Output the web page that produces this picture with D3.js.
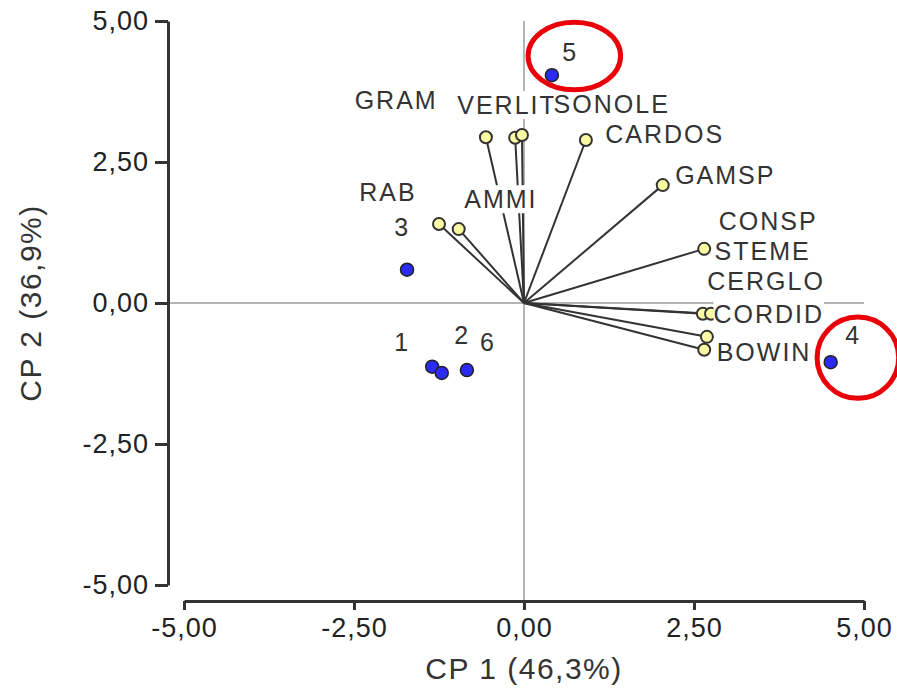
<!DOCTYPE html>
<html>
<head>
<meta charset="utf-8">
<script src="https://cdn.jsdelivr.net/npm/d3@7"></script>
<style>
  body { margin: 0; background: #fff; }
  svg { display: block; font-family: "Liberation Sans", Arial, sans-serif; }
</style>
</head>
<body>
<div id="chart"></div>
<script>
// variables (loadings) - yellow points
const varNames = ["GRAM", "VERLIT", "SONOLE", "CARDOS", "GAMSP", "CONSP", "STEME", "CERGLO", "CORDID", "BOWIN", "RAB", "AMMI"];
const varX = [-0.56, -0.13, -0.03, 0.91, 2.04, 2.65, 2.63, 2.75, 2.69, 2.65, -1.25, -0.96];
const varY = [2.94, 2.93, 2.98, 2.89, 2.09, 0.96, -0.19, -0.19, -0.60, -0.83, 1.40, 1.31];
// where the variable labels sit (data units)
const varLabX = [-1.88, -0.25, 1.29, 2.07, 2.96, 3.59, 3.51, 3.56, 3.60, 3.53, -2.00, -0.34];
const varLabY = [3.60, 3.51, 3.53, 3.00, 2.27, 1.45, 0.92, 0.39, -0.20, -0.87, 1.97, 1.84];

// observations (scores) - blue points
const obsNames = ["1", "2", "3", "4", "5", "6"];
const obsX = [-1.35, -1.21, -1.72, 4.51, 0.41, -0.84];
const obsY = [-1.13, -1.24, 0.59, -1.05, 4.04, -1.19];
const obsLabX = [-1.79, -0.91, -1.79, 4.84, 0.68, -0.53];
const obsLabY = [-0.69, -0.57, 1.35, -0.57, 4.45, -0.69];

const ticks = [-5, -2.5, 0, 2.5, 5];

// red circles drawn round observations 5 and 4
const marked = [
  {cx: 0.74, cy: 4.38, rx: 0.68, ry: 0.60},
  {cx: 4.91, cy: -0.97, rx: 0.60, ry: 0.72}
];

const width = 897, height = 688;

const x = d3.scaleLinear().domain([-5, 5]).range([184, 864]);
const y = d3.scaleLinear().domain([-5, 5]).range([585, 21]);

const fmt = d3.formatLocale({decimal: ",", thousands: ".", grouping: [3], currency: ["", ""], minus: "-"}).format(".2f");

const svg = d3.select("#chart").append("svg")
  .attr("width", width)
  .attr("height", height);

svg.append("rect").attr("width", width).attr("height", height).attr("fill", "#fff");

// reference lines through origin
svg.append("line")
  .attr("x1", x(0)).attr("x2", x(0))
  .attr("y1", y(5)).attr("y2", 601)
  .attr("stroke", "#b4b4b4").attr("stroke-width", 2);
svg.append("line")
  .attr("x1", 168).attr("x2", x(5))
  .attr("y1", y(0)).attr("y2", y(0))
  .attr("stroke", "#b4b4b4").attr("stroke-width", 2);

// axes
const yAxis = svg.append("g")
  .attr("transform", "translate(168,0)")
  .call(d3.axisLeft(y).tickValues(ticks).tickSize(13).tickSizeOuter(0).tickFormat(fmt).tickPadding(6));

const xAxis = svg.append("g")
  .attr("transform", "translate(0,601)")
  .call(d3.axisBottom(x).tickValues(ticks).tickSize(9).tickSizeOuter(0).tickFormat(fmt).tickPadding(8));

[yAxis, xAxis].forEach(g => {
  g.select(".domain").attr("stroke", "#333").attr("stroke-width", 3);
  g.selectAll(".tick line").attr("stroke", "#333").attr("stroke-width", 3);
  g.selectAll(".tick text")
    .attr("fill", "#222")
    .style("font-size", "27px")
    .style("letter-spacing", "1px");
});
xAxis.selectAll(".tick text").attr("dy", "0.71em");

// axis titles
svg.append("text")
  .attr("x", x(0)).attr("y", 668)
  .attr("text-anchor", "middle").attr("dominant-baseline", "central")
  .attr("fill", "#333")
  .style("font-size", "30px").style("letter-spacing", "1.5px")
  .text("CP 1 (46,3%)");

svg.append("text")
  .attr("transform", "translate(30," + y(0) + ") rotate(-90)")
  .attr("text-anchor", "middle").attr("dominant-baseline", "central")
  .attr("fill", "#333")
  .style("font-size", "30px").style("letter-spacing", "1.5px")
  .text("CP 2 (36,9%)");

// vectors from origin
const vars = varNames.map((n, i) => ({name: n, x: varX[i], y: varY[i], lx: varLabX[i], ly: varLabY[i]}));
const obs = obsNames.map((n, i) => ({name: n, x: obsX[i], y: obsY[i], lx: obsLabX[i], ly: obsLabY[i]}));

svg.selectAll(".vec")
  .data(vars)
  .enter().append("line")
  .attr("class", "vec")
  .attr("x1", x(0)).attr("y1", y(0))
  .attr("x2", d => x(d.x)).attr("y2", d => y(d.y))
  .attr("stroke", "#333").attr("stroke-width", 2);

svg.selectAll(".varpt")
  .data(vars)
  .enter().append("circle")
  .attr("class", "varpt")
  .attr("cx", d => x(d.x)).attr("cy", d => y(d.y))
  .attr("r", 6)
  .attr("fill", "#fafaa2").attr("stroke", "#333").attr("stroke-width", 2);

svg.selectAll(".obspt")
  .data(obs)
  .enter().append("circle")
  .attr("class", "obspt")
  .attr("cx", d => x(d.x)).attr("cy", d => y(d.y))
  .attr("r", 6.5)
  .attr("fill", "#2b2bf5").attr("stroke", "#222").attr("stroke-width", 1.5);

// labels with white boxes (they hide lines underneath)
const labels = vars.concat(obs);
const lg = svg.selectAll(".lab")
  .data(labels)
  .enter().append("g")
  .attr("class", "lab");

lg.append("rect").attr("fill", "#fff");
lg.append("text")
  .attr("x", d => x(d.lx)).attr("y", d => y(d.ly))
  .attr("text-anchor", "middle").attr("dominant-baseline", "central")
  .attr("fill", "#333")
  .style("font-size", "25px").style("letter-spacing", "2px")
  .text(d => d.name);

lg.each(function() {
  const g = d3.select(this);
  const b = g.select("text").node().getBBox();
  g.select("rect")
    .attr("x", b.x).attr("y", b.y)
    .attr("width", b.width).attr("height", b.height);
});

// red highlight ellipses
svg.selectAll(".mark")
  .data(marked)
  .enter().append("ellipse")
  .attr("class", "mark")
  .attr("cx", d => x(d.cx)).attr("cy", d => y(d.cy))
  .attr("rx", d => x(d.rx) - x(0)).attr("ry", d => y(0) - y(d.ry))
  .attr("fill", "none").attr("stroke", "#ea0008").attr("stroke-width", 5);
</script>
</body>
</html>
